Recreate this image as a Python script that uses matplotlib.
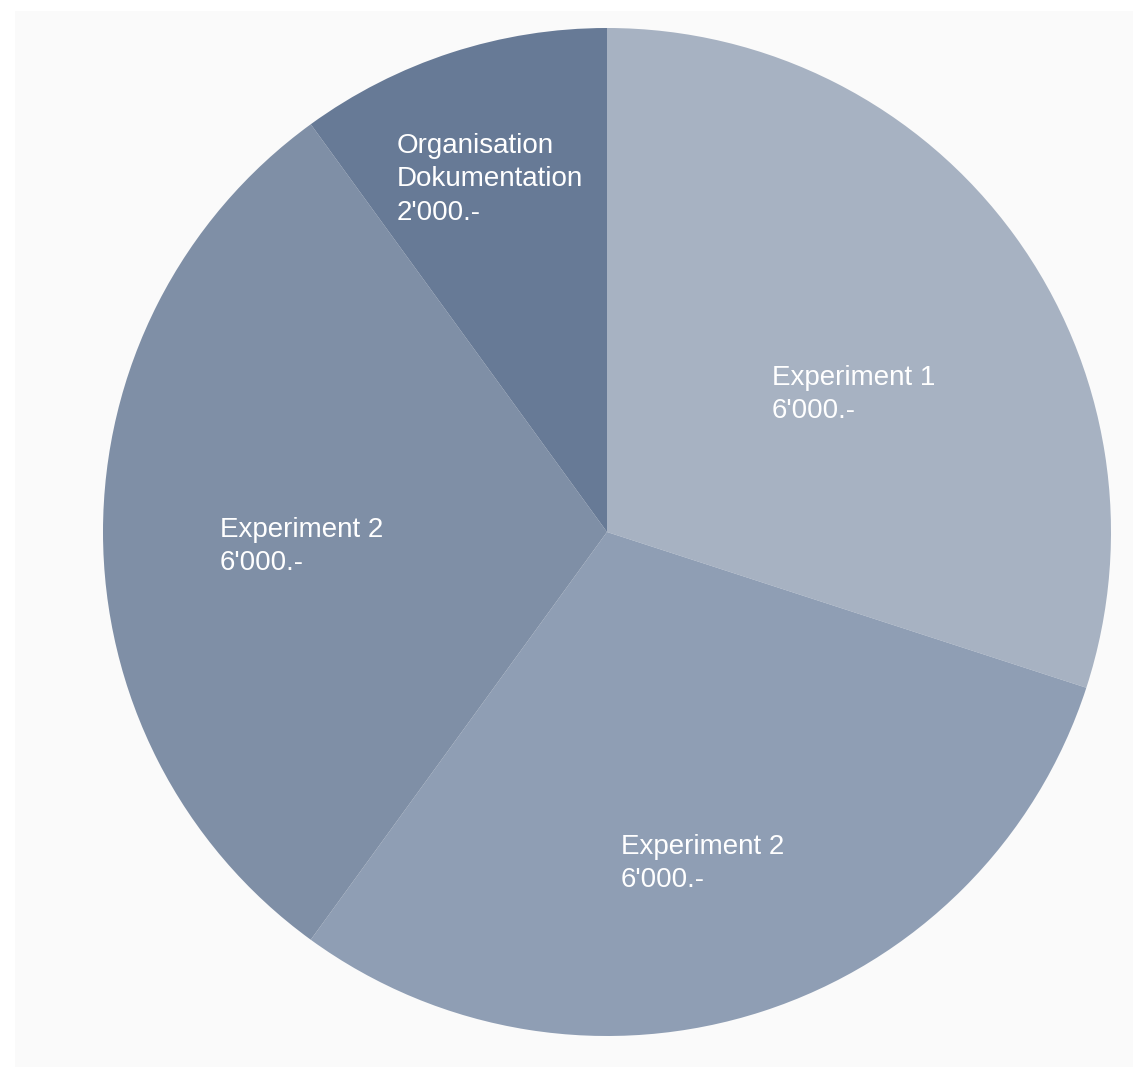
import matplotlib
matplotlib.use('Agg')
import matplotlib.pyplot as plt
import matplotlib.patches as patches

# data
names = ['Experiment 1', 'Experiment 2', 'Experiment 2', 'Organisation\nDokumentation']
values = [6000, 6000, 6000, 2000]
colors = ['#a7b2c2', '#8f9eb4', '#7f8fa6', '#677a96']

# label anchors (left edge, vertical centre) in pie units
label_pos = [(0.327, 0.273), (0.028, -0.658), (-0.768, -0.029), (-0.417, 0.700)]


def fmt(v):
    return '{:,}'.format(v).replace(',', "'") + '.-'


W, H = 1133, 1067
fig = plt.figure(figsize=(W / 100, H / 100), dpi=100)
fig.patch.set_facecolor('white')

# light panel behind the chart
fig.add_artist(patches.Rectangle((15 / W, 0), 1 - 15 / W, 1 - 10 / H - 1 / H,
                                 transform=fig.transFigure, facecolor='#fafafa',
                                 edgecolor='none', zorder=0))

R = 504
cx, cy = 607, 532
ax = fig.add_axes([(cx - R) / W, (H - cy - R) / H, 2 * R / W, 2 * R / H])
ax.set_facecolor('none')
ax.pie(values, colors=colors, startangle=90, counterclock=False, radius=1,
       wedgeprops={'linewidth': 0, 'antialiased': True})
ax.set_xlim(-1, 1)
ax.set_ylim(-1, 1)
ax.set_aspect('equal')
ax.axis('off')

for n, v, (x, y) in zip(names, values, label_pos):
    ax.text(x, y, n + '\n' + fmt(v), ha='left', va='center', color='white',
            fontsize=20, family='Liberation Sans', linespacing=1.37)

fig.savefig('out.png', dpi=100)
